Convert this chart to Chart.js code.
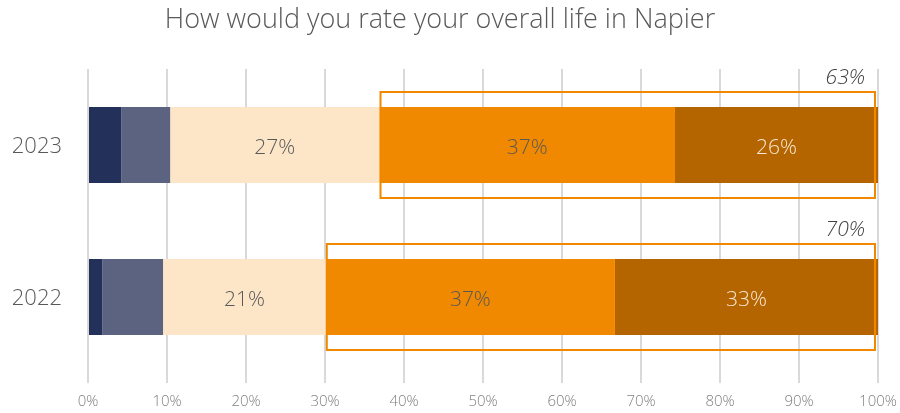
<!DOCTYPE html>
<html>
<head>
<meta charset="utf-8">
<script src="https://cdn.jsdelivr.net/npm/chart.js@4"></script>
<style>
html,body{margin:0;padding:0;background:#fff;}
#wrap{width:900px;height:413px;position:relative;}
</style>
</head>
<body>
<div id="wrap"><canvas id="c" width="900" height="413"></canvas></div>
<script>
const title = "How would you rate your overall life in Napier";
const categories = ["2023", "2022"];
const seriesNames = ["Very poor", "Poor", "Neither", "Good", "Very good"];
const seg1 = [4.2, 1.8];
const seg2 = [6.2, 7.7];
const seg3 = [26.5, 20.6];
const seg4 = [37.4, 36.6];
const seg5 = [25.7, 33.3];
const xTicks = [0,10,20,30,40,50,60,70,80,90,100];

const colors = ["#233059", "#5C6380", "#FDE6C8", "#F08800", "#B56500"];
const labelColors = [null, null, "#595959", "#595959", "#F8E8D4"];
const FONT = "'Open Sans', 'Segoe UI', sans-serif";

const series = [seg1, seg2, seg3, seg4, seg5];
const datasets = series.map((d, i) => ({
  label: seriesNames[i],
  data: d,
  backgroundColor: colors[i],
  borderWidth: 0,
  categoryPercentage: 0.5,
  barPercentage: 1.0
}));

const overlay = {
  id: 'overlay',
  afterDraw(chart) {
    const ctx = chart.ctx;
    const xs = chart.scales.x;
    // title
    ctx.save();
    ctx.fillStyle = "#595959";
    ctx.font = "300 27px " + FONT;
    ctx.textAlign = "center";
    ctx.textBaseline = "middle";
    ctx.fillText(title, 440, 20);
    ctx.restore();
    // data labels
    for (let i = 2; i < 5; i++) {
      const meta = chart.getDatasetMeta(i);
      meta.data.forEach((el, j) => {
        const v = series[i][j];
        ctx.save();
        ctx.fillStyle = labelColors[i];
        ctx.font = "300 21px " + FONT;
        ctx.textAlign = "center";
        ctx.textBaseline = "middle";
        ctx.fillText(Math.round(v) + "%", (el.base + el.x) / 2, el.y + 3);
        ctx.restore();
      });
    }
    // boxes around top-2
    const meta4 = chart.getDatasetMeta(3);
    meta4.data.forEach((el, j) => {
      const before = seg1[j] + seg2[j] + seg3[j];
      const total = seg4[j] + seg5[j];
      const x0 = xs.getPixelForValue(before) + 1;
      const x1 = xs.getPixelForValue(100) - 3;
      const half = el.height / 2 + 15;
      const y0 = el.y - half, y1 = el.y + half;
      ctx.save();
      ctx.strokeStyle = "#F08800";
      ctx.lineWidth = 2;
      ctx.strokeRect(x0, y0, x1 - x0, y1 - y0);
      ctx.fillStyle = "#404040";
      ctx.font = "italic 300 21px " + FONT;
      ctx.textAlign = "right";
      ctx.textBaseline = "alphabetic";
      ctx.fillText(Math.round(total) + "%", x1 - 10, y0 - 8);
      ctx.restore();
    });
  }
};

new Chart(document.getElementById('c'), {
  type: 'bar',
  data: { labels: categories, datasets },
  options: {
    indexAxis: 'y',
    responsive: false,
    animation: false,
    devicePixelRatio: 1,
    layout: { padding: { top: 69, right: 22, left: 0, bottom: 0 } },
    plugins: { legend: { display: false }, tooltip: { enabled: false }, title: { display: false } },
    scales: {
      x: {
        stacked: true,
        min: 0, max: 100,
        afterFit(s) { s.height = 40; s.paddingLeft = 0; s.paddingRight = 0; },
        afterBuildTicks(s) { s.ticks = xTicks.map(v => ({ value: v })); },
        grid: { color: "#D9D9D9", lineWidth: 2, drawTicks: true, tickLength: 10, tickColor: "#D9D9D9" },
        border: { display: false },
        ticks: {
          color: "#808080",
          font: { family: FONT, size: 15, weight: 300 },
          padding: 10,
          callback: v => v + "%"
        }
      },
      y: {
        stacked: true,
        afterFit(s) { s.width = 88; },
        grid: { display: false },
        border: { display: false },
        ticks: {
          color: "#595959",
          font: { family: FONT, size: 22, weight: 300 },
          padding: 18,
          labelOffset: 2
        }
      }
    }
  },
  plugins: [overlay]
});
</script>
</body>
</html>
